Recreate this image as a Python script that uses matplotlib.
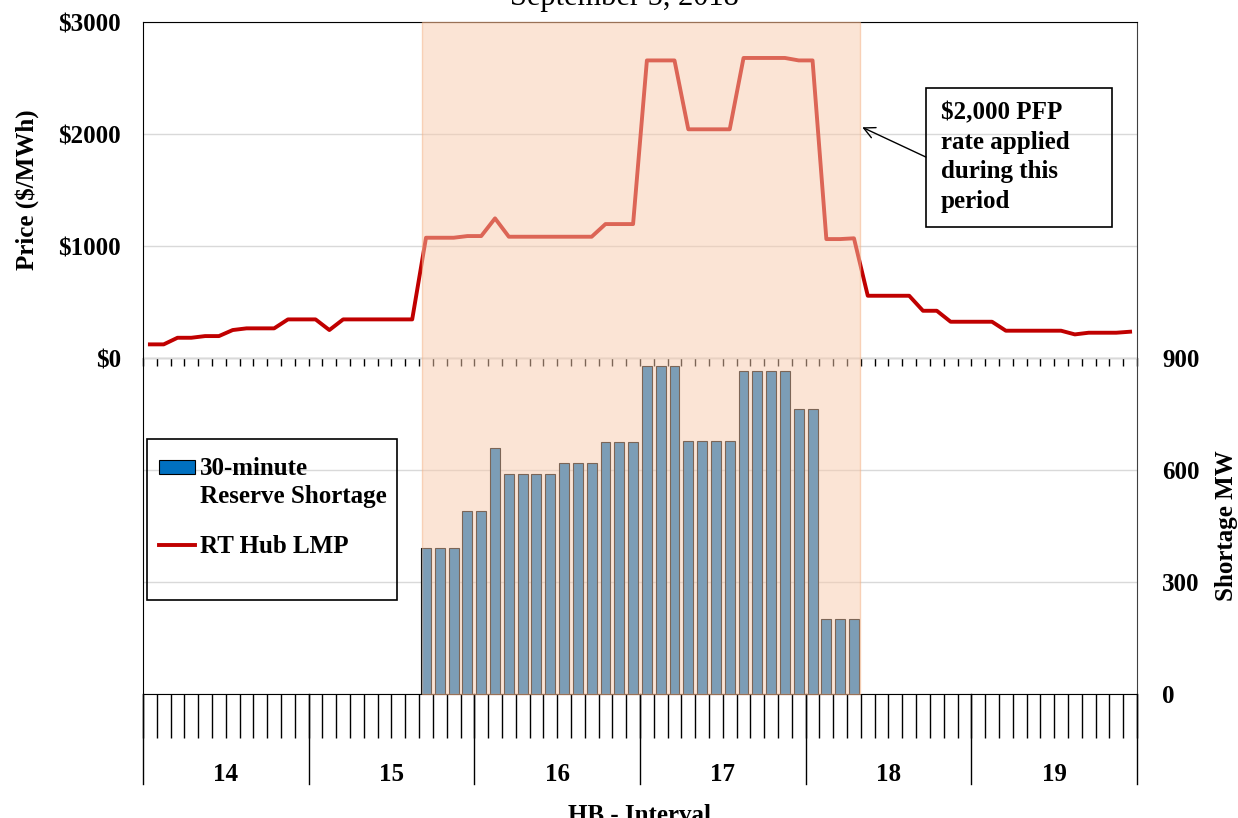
import numpy as np
import matplotlib
matplotlib.use('Agg')
from matplotlib import pyplot as plt
from matplotlib.patches import Rectangle
from matplotlib.legend_handler import HandlerPatch
from matplotlib.transforms import blended_transform_factory

plt.rcParams['font.family'] = ['Liberation Serif', 'DejaVu Serif']
plt.rcParams['font.weight'] = 'bold'
plt.rcParams['axes.labelweight'] = 'bold'
plt.rcParams['font.size'] = 18

# 5-minute intervals, hour beginning 14 .. 19
hours = [14, 15, 16, 17, 18, 19]
per_hour = 12

# RT Hub LMP ($/MWh), one value per interval
price = [122, 122, 181, 181, 196, 196, 250, 265, 265, 265, 345, 345,
         345, 250, 345, 345, 345, 345, 345, 345, 1074, 1074, 1074, 1089,
         1089, 1247, 1083, 1083, 1083, 1083, 1083, 1083, 1083, 1196, 1196, 1196,
         2657, 2657, 2657, 2042, 2042, 2042, 2042, 2679, 2679, 2679, 2679, 2657,
         2657, 1062, 1062, 1069, 556, 556, 556, 556, 422, 422, 324, 324,
         324, 324, 244, 244, 244, 244, 244, 211, 226, 226, 226, 235]

# 30-minute reserve shortage (MW), one value per interval
shortage = [0] * 20 + [390, 390, 390, 490, 490, 660, 590, 590, 590, 590, 620, 620,
                       620, 675, 675, 675, 880, 880, 880, 678, 678, 678, 678, 865,
                       865, 865, 865, 763, 763, 200, 200, 200] + [0] * 20

# span of the $2,000 PFP period, in interval units
pfp_start, pfp_end = 20.18, 51.95

n = len(price)
x = np.arange(n) + 0.5

fig = plt.figure(figsize=(12.38, 8.18), dpi=100)
ax1 = fig.add_axes([0.1155, 0.5623, 0.8029, 0.4108])
ax2 = fig.add_axes([0.1155, 0.1516, 0.8029, 0.4107])

# top panel: price
line, = ax1.plot(x, price, color='#C00000', lw=2.8, zorder=3)
ax1.set_xlim(0, n)
ax1.set_ylim(0, 3000)
ax1.set_yticks([0, 1000, 2000, 3000])
ax1.set_yticklabels(['$0', '$1000', '$2000', '$3000'])
ax1.grid(axis='y', color='#D9D9D9', lw=1)
ax1.set_axisbelow(True)
ax1.set_xticks(np.arange(n + 1))
ax1.tick_params(axis='x', direction='out', length=5.8, width=1, labelbottom=False)
ax1.tick_params(axis='y', length=0, pad=16)
ax1.set_ylabel('Price ($/MWh)', labelpad=14)
ax1.spines['right'].set_color('#404040')

# bottom panel: shortage
s = np.array(shortage)
m = s > 0
bars = ax2.bar(x[m], s[m], width=0.72, color='#0070C0', edgecolor='black', lw=0.8, zorder=3)
ax2.set_facecolor('none')
ax2.set_xlim(0, n)
ax2.set_ylim(0, 900)
ax2.yaxis.tick_right()
ax2.yaxis.set_label_position('right')
ax2.set_yticks([0, 300, 600, 900])
ax2.tick_params(axis='y', length=0, pad=18)
ax2.grid(axis='y', color='#D9D9D9', lw=1)
ax2.set_axisbelow(True)
ax2.spines['right'].set_color('#404040')
ax2.spines['top'].set_visible(False)

centers = [i * per_hour + per_hour / 2 for i in range(len(hours))]
ax2.set_xticks(centers)
ax2.set_xticklabels([str(h) for h in hours])
ax2.set_xticks(np.arange(n + 1), minor=True)
ax2.xaxis.remove_overlapping_locs = False
ax2.tick_params(axis='x', which='minor', length=31.7, width=1)
ax2.tick_params(axis='x', which='major', length=0, pad=50)
for b in range(0, n + 1, per_hour):
    ax2.axvline(b, ymin=-0.268, ymax=0, color='black', lw=1, clip_on=False)
ax2.set_xlabel('HB - Interval', labelpad=13)
ax2.set_ylabel('Shortage MW', labelpad=11)


# legend: bar swatch sits next to the first line of its two-line label
def upper_patch(legend, orig_handle, xdescent, ydescent, width, height, fontsize):
    return Rectangle((-xdescent, -ydescent + 0.62 * fontsize), width, height)


leg = ax2.legend([bars.patches[0], line], ['30-minute\nReserve Shortage', 'RT Hub LMP'],
                 loc='upper left', bbox_to_anchor=(0.016, 0.706), frameon=False,
                 borderpad=0, borderaxespad=0, handlelength=1.45, handleheight=0.5,
                 handletextpad=0.2, labelspacing=1.07,
                 handler_map={bars.patches[0]: HandlerPatch(patch_func=upper_patch)})
for t in leg.get_texts():
    t.set_linespacing(1.3)
ax2.add_patch(Rectangle((0.004, 0.28), 0.2515, 0.479, transform=ax2.transAxes,
                        fill=False, ec='black', lw=1.2, zorder=5, clip_on=False))

# annotation
ax1.add_patch(Rectangle((0.7877, 0.39), 0.187, 0.4137, transform=ax1.transAxes,
                        fill=False, ec='black', lw=1.2, zorder=5))
ax1.text(0.8028, 0.764, '$2,000 PFP\nrate applied\nduring this\nperiod',
         transform=ax1.transAxes, va='top', ha='left', linespacing=1.36)
ax1.annotate('', xy=(52.1, 2060), xytext=(0.7877, 0.598), textcoords='axes fraction',
             arrowprops=dict(arrowstyle='->', color='black', lw=1, shrinkA=0, shrinkB=0,
                             mutation_scale=20))

# PFP shading over both panels
trans = blended_transform_factory(ax2.transData, fig.transFigure)
y0 = ax2.get_position().y0
y1 = ax1.get_position().y1
fig.add_artist(Rectangle((pfp_start, y0), pfp_end - pfp_start, y1 - y0, transform=trans,
                         facecolor='#F8CBAD', edgecolor='#F4B183', lw=1, alpha=0.5, zorder=20))

fig.text(0.504, 1 - 5 / 818, 'September 5, 2018', ha='center', va='baseline',
         fontsize=22, fontweight='normal')

fig.savefig('out.png', dpi=100)
